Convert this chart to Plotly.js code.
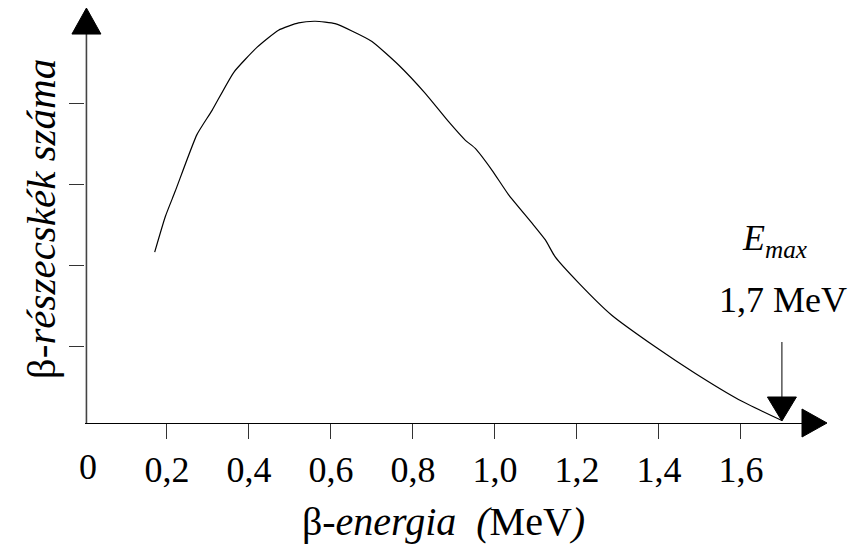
<!DOCTYPE html>
<html>
<head>
<meta charset="utf-8">
<script src="https://cdn.plot.ly/plotly-3.0.1.min.js"></script>
<style>html,body{margin:0;padding:0;background:#fff;}#chart{width:854px;height:544px;}
#chart svg text{font-family:'Liberation Serif', serif !important;}</style>
</head>
<body>
<div id="chart"></div>
<script>
// Beta energy (MeV)
const energy = [0.170, 0.196, 0.220, 0.273, 0.310, 0.363, 0.420, 0.472, 0.521, 0.562, 0.610, 0.651, 0.700, 0.765, 0.830, 0.887, 0.928, 0.952, 0.993, 1.033, 1.090, 1.123, 1.147, 1.204, 1.285, 1.391, 1.489, 1.594, 1.700];
// Number of beta particles (arbitrary units)
const counts = [2.11, 2.55, 2.86, 3.56, 3.86, 4.33, 4.64, 4.85, 4.94, 4.96, 4.93, 4.84, 4.71, 4.42, 4.07, 3.72, 3.49, 3.39, 3.12, 2.82, 2.47, 2.26, 2.05, 1.73, 1.33, 0.94, 0.61, 0.29, 0.03];
const xTickVals = [0.2, 0.4, 0.6, 0.8, 1.0, 1.2, 1.4, 1.6];
const xTickText = ["0,2", "0,4", "0,6", "0,8", "1,0", "1,2", "1,4", "1,6"];
const yTickVals = [0.94, 1.94, 2.94, 3.94];
const yAxisTop = 4.802;
const eMax = 1.7;
const eMaxLabel = "1,7 MeV";
const originLabel = "0";

const fontFam = "'Liberation Serif', serif";

const trace = {
  x: energy, y: counts, type: "scatter", mode: "lines",
  line: {color: "#000", width: 1.2, shape: "spline", smoothing: 0.5},
  hoverinfo: "skip", showlegend: false
};

const yMax = 5.037;
const axisTopPaper = yAxisTop / yMax;

const layout = {
  width: 854, height: 544,
  margin: {l: 85, r: 52, t: 15, b: 121},
  paper_bgcolor: "#fff", plot_bgcolor: "#fff",
  showlegend: false,
  xaxis: {
    range: [0, 1.749], showgrid: false, zeroline: false,
    showline: true, linecolor: "#000", linewidth: 1.2,
    ticks: "outside", ticklen: 15, tickwidth: 1, tickcolor: "#333",
    tickvals: xTickVals, ticktext: xTickText,
    tickfont: {family: fontFam, size: 36, color: "#000"},
    title: {text: "β-<i>energia</i>\u00a0\u00a0<i>(</i>MeV<i>)</i>", font: {family: fontFam, size: 40, color: "#000"}, standoff: 20},
    automargin: false, fixedrange: true
  },
  yaxis: {
    range: [0, yMax], showgrid: false, zeroline: false,
    showline: false,
    ticks: "outside", ticklen: 15, tickwidth: 1.2, tickcolor: "#333",
    tickvals: yTickVals, showticklabels: false,
    title: {text: "β-<i>részecskék száma</i>", font: {family: fontFam, size: 41, color: "#000"}, standoff: 0},
    automargin: false, fixedrange: true
  },
  shapes: [
    {type: "line", xref: "paper", yref: "paper", x0: 0.002, x1: 0.002, y0: 0, y1: axisTopPaper,
     line: {color: "#444", width: 1.6}},
    {type: "path", xref: "paper", yref: "paper", xsizemode: "pixel", ysizemode: "pixel",
     xanchor: 0.002, yanchor: axisTopPaper, path: "M-14.5,0 L14.5,0 L0,26 Z",
     fillcolor: "#000", line: {color: "#000", width: 1}},
    {type: "path", xref: "paper", yref: "paper", xsizemode: "pixel", ysizemode: "pixel",
     xanchor: 1, yanchor: 0, path: "M0,-14 L0,14 L25,0 Z",
     fillcolor: "#000", line: {color: "#000", width: 1}},
    {type: "path", xref: "x", yref: "paper", xsizemode: "pixel", ysizemode: "pixel",
     xanchor: eMax, yanchor: 0, path: "M0,81 L0,26",
     line: {color: "#000", width: 1}},
    {type: "path", xref: "x", yref: "paper", xsizemode: "pixel", ysizemode: "pixel",
     xanchor: eMax, yanchor: 0, path: "M-14.5,26 L14.5,26 L0,2 Z",
     fillcolor: "#000", line: {color: "#000", width: 1}}
  ],
  annotations: [
    {x: eMax, xref: "x", y: 0, yref: "paper", yshift: 423 - 240, text: "<i>E<sub>max</sub></i>",
     showarrow: false, font: {family: fontFam, size: 36, color: "#000"}, xanchor: "center", yanchor: "middle", xshift: -7},
    {x: eMax, xref: "x", y: 0, yref: "paper", yshift: 423 - 300, text: eMaxLabel,
     showarrow: false, font: {family: fontFam, size: 36, color: "#000"}, xanchor: "center", yanchor: "middle", xshift: 1},
    {x: 0, xref: "x", y: 0, yref: "paper", yshift: -44, text: originLabel,
     showarrow: false, font: {family: fontFam, size: 36, color: "#000"}, xanchor: "center", yanchor: "middle", xshift: 3}
  ]
};

Plotly.newPlot("chart", [trace], layout, {displayModeBar: false, staticPlot: true});
</script>
</body>
</html>
